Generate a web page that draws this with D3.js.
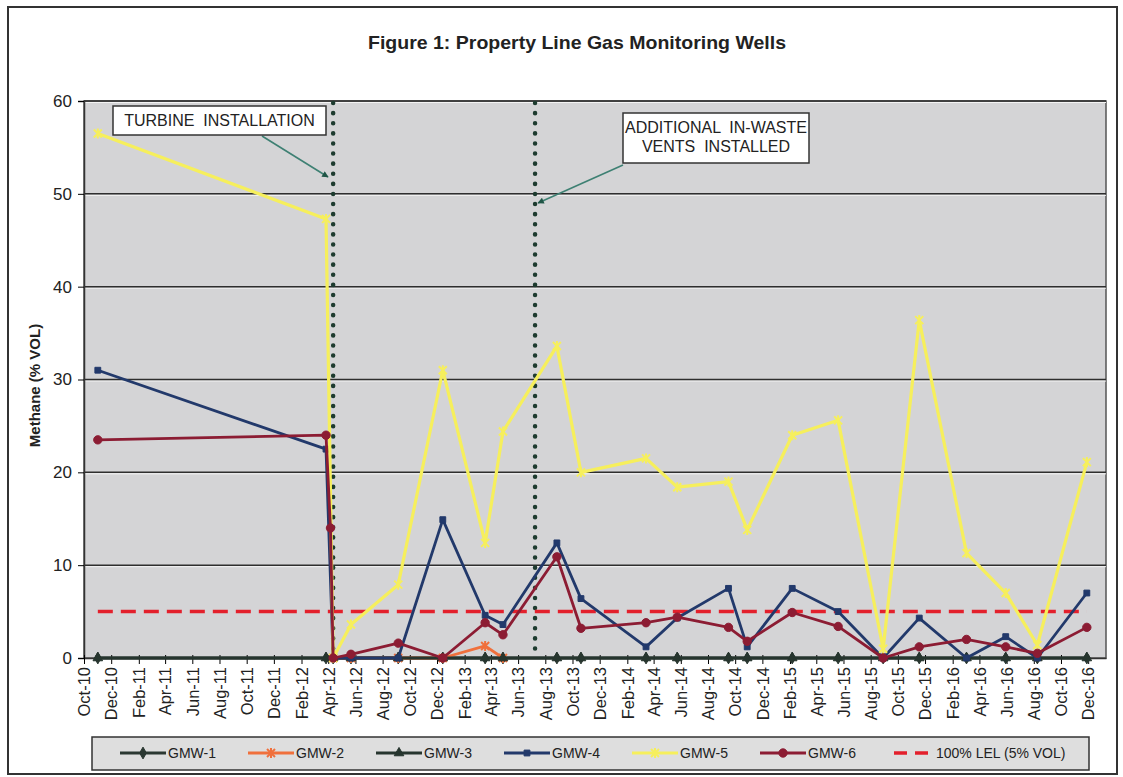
<!DOCTYPE html>
<html>
<head>
<meta charset="utf-8">
<script src="https://cdn.jsdelivr.net/npm/d3@7"></script>
<style>
  body { margin: 0; background: #fff; }
  svg { display: block; font-family: "Liberation Sans", Arial, sans-serif; }
</style>
</head>
<body>
<svg id="chart" width="1123" height="777"></svg>
<script>
// sample dates
const dates = ['2010-11-01', '2012-03-27', '2012-04-06', '2012-04-12', '2012-05-22',
  '2012-09-05', '2012-12-14', '2013-03-19', '2013-04-28', '2013-08-27', '2013-10-20',
  '2014-03-15', '2014-05-24', '2014-09-16', '2014-10-28', '2015-02-06', '2015-05-20',
  '2015-08-29', '2015-11-18', '2016-03-03', '2016-05-30', '2016-08-09', '2016-11-28'];

const gmw1 = [0, 0, null, 0, 0, 0, 0, 0, 0, 0, 0, 0, 0, 0, 0, 0, 0, 0, 0, 0, 0, 0, 0];
const gmw2 = [null, null, null, 0, 0, 0, 0, 1.3, 0, null, null, null, null, null, null, null, null, null, null, null, null, null, null];
const gmw3 = [0, 0, null, 0, 0, 0, 0, 0, 0, 0, 0, 0, 0, 0, 0, 0, 0, 0, 0, 0, 0, 0, 0];
const gmw4 = [31, 22.5, null, 0, 0, 0, 14.9, 4.6, 3.6, 12.4, 6.4, 1.2, 4.3, 7.5, 1.2, 7.5, 5.0, 0, 4.3, 0, 2.3, 0, 7.0];
const gmw5 = [56.5, 47.3, null, 0, 3.6, 7.9, 31.0, 12.4, 24.4, 33.6, 20.0, 21.5, 18.4, 19.0, 13.8, 24.0, 25.6, 1.0, 36.4, 11.3, 7.0, 1.4, 21.1];
const gmw6 = [23.5, 24.0, 14.0, 0, 0.4, 1.6, 0, 3.8, 2.5, 10.9, 3.2, 3.8, 4.4, 3.3, 1.8, 4.9, 3.4, 0, 1.2, 2.0, 1.2, 0.5, 3.3];
const lel = [5, 5, 5, 5, 5, 5, 5, 5, 5, 5, 5, 5, 5, 5, 5, 5, 5, 5, 5, 5, 5, 5, 5];

const yTicks = [0, 10, 20, 30, 40, 50, 60];
const events = [
  { date: '2012-04-12', lines: ['TURBINE  INSTALLATION'] },
  { date: '2013-07-09', lines: ['ADDITIONAL  IN-WASTE', 'VENTS  INSTALLED'] }
];

const series = [
  { name: 'GMW-1', values: gmw1, color: '#2b3832', marker: 'diamond' },
  { name: 'GMW-2', values: gmw2, color: '#f0703c', marker: 'star' },
  { name: 'GMW-3', values: gmw3, color: '#26352e', marker: 'triangle' },
  { name: 'GMW-4', values: gmw4, color: '#22396b', marker: 'square' },
  { name: 'GMW-5', values: gmw5, color: '#f6ef5c', marker: 'star' },
  { name: 'GMW-6', values: gmw6, color: '#8c1c33', marker: 'circle' }
];

const parse = d3.timeParse('%Y-%m-%d');
const svg = d3.select('#chart');

const plot = { left: 84, right: 1106, top: 101, bottom: 658 };

const x = d3.scaleTime()
  .domain([new Date(2010, 9, 1), new Date(2017, 0, 10)])
  .range([plot.left, plot.right]);
const y = d3.scaleLinear()
  .domain([0, 60])
  .range([plot.bottom, plot.top]);

// outer frame
svg.append('rect')
  .attr('x', 8).attr('y', 7).attr('width', 1109).attr('height', 767)
  .attr('fill', 'none').attr('stroke', '#333').attr('stroke-width', 2);

svg.append('text')
  .attr('x', 577).attr('y', 49)
  .attr('text-anchor', 'middle')
  .attr('font-size', 19).attr('font-weight', 'bold').attr('fill', '#222')
  .attr('textLength', 418).attr('lengthAdjust', 'spacingAndGlyphs')
  .text('Figure 1: Property Line Gas Monitoring Wells');

// plot background
svg.append('rect')
  .attr('x', plot.left).attr('y', plot.top)
  .attr('width', plot.right - plot.left).attr('height', plot.bottom - plot.top)
  .attr('fill', '#d4d4d6').attr('stroke', '#555').attr('stroke-width', 1.5);

// gridlines
const grid = svg.append('g');
yTicks.filter(t => t > 0).forEach(t => {
  grid.append('line')
    .attr('x1', plot.left).attr('x2', plot.right)
    .attr('y1', y(t) + 1.5).attr('y2', y(t) + 1.5)
    .attr('stroke', '#f4f4f4').attr('stroke-width', 1);
  grid.append('line')
    .attr('x1', plot.left).attr('x2', plot.right)
    .attr('y1', y(t)).attr('y2', y(t))
    .attr('stroke', '#2e2e2e').attr('stroke-width', 1.5);
});

// axes
const yAxis = svg.append('g')
  .attr('transform', 'translate(' + plot.left + ',0)')
  .call(d3.axisLeft(y).tickValues(yTicks).tickSize(6).tickPadding(6));
yAxis.select('.domain').attr('stroke', '#333').attr('stroke-width', 1.5);
yAxis.selectAll('text').attr('font-size', 17).attr('fill', '#222')
  .attr('font-family', '"Liberation Sans", Arial, sans-serif');

// one tick every two months, Oct-10 .. Dec-16
const xTicks = [];
for (let i = 0; i <= 37; i++) xTicks.push(d3.timeMonth.offset(new Date(2010, 9, 1), i * 2));
const xAxis = svg.append('g')
  .attr('transform', 'translate(0,' + plot.bottom + ')')
  .call(d3.axisBottom(x).tickValues(xTicks).tickFormat(d3.timeFormat('%b-%y'))
    .tickSizeInner(6).tickSizeOuter(0).tickPadding(4));
xAxis.select('.domain').attr('stroke', '#333').attr('stroke-width', 1.5);
xAxis.selectAll('.tick line').attr('y1', -3);
xAxis.selectAll('text')
  .attr('font-size', 16.5).attr('fill', '#222')
  .attr('font-family', '"Liberation Sans", Arial, sans-serif')
  .attr('text-anchor', 'end')
  .attr('transform', 'rotate(-90)')
  .attr('x', -9).attr('y', 0).attr('dy', '0.35em');

svg.append('text')
  .attr('transform', 'translate(40,' + ((plot.top + plot.bottom) / 2 + 6) + ') rotate(-90)')
  .attr('text-anchor', 'middle')
  .attr('font-size', 15).attr('font-weight', 'bold').attr('fill', '#222')
  .text('Methane (% VOL)');

// event lines (dotted)
events.forEach(e => {
  svg.append('line')
    .attr('x1', x(parse(e.date))).attr('x2', x(parse(e.date)))
    .attr('y1', plot.top + 2).attr('y2', plot.bottom)
    .attr('stroke', '#1d3b2f').attr('stroke-width', 4.5)
    .attr('stroke-linecap', 'round').attr('stroke-dasharray', '0.1 10');
});

function markerPath (type) {
  if (type === 'star') return 'M-4,-4L4,4M-4,4L4,-4M0,-5L0,5';
  const map = { diamond: d3.symbolDiamond, triangle: d3.symbolTriangle, square: d3.symbolSquare, circle: d3.symbolCircle };
  const size = { diamond: 40, triangle: 40, square: 34, circle: 55 };
  return d3.symbol().type(map[type]).size(size[type])();
}

const line = d3.line().x(d => x(d.date)).y(d => y(d.value));

// LEL dashed line
const lelData = dates.map((d, i) => ({ date: parse(d), value: lel[i] }));
svg.append('path')
  .datum(lelData)
  .attr('d', line)
  .attr('fill', 'none').attr('stroke', '#e3202c').attr('stroke-width', 3.5)
  .attr('stroke-dasharray', '15 8');

series.forEach(s => {
  const pts = dates.map((d, i) => ({ date: parse(d), value: s.values[i] }))
    .filter(p => p.value !== null);
  const g = svg.append('g');
  g.append('path')
    .datum(pts)
    .attr('d', line)
    .attr('fill', 'none').attr('stroke', s.color)
    .attr('stroke-width', s.name === 'GMW-5' ? 3.2 : 2.8)
    .attr('stroke-linejoin', 'round');
  g.selectAll('path.mk')
    .data(pts)
    .enter().append('path')
    .attr('class', 'mk')
    .attr('d', markerPath(s.marker))
    .attr('transform', p => 'translate(' + x(p.date) + ',' + y(p.value) + ')')
    .attr('fill', s.marker === 'star' ? 'none' : s.color)
    .attr('stroke', s.color).attr('stroke-width', s.marker === 'star' ? 2 : 1);
});

// annotation boxes and arrows
const arrowColor = '#3e8073';
svg.append('defs').append('marker')
  .attr('id', 'arrow').attr('viewBox', '0 0 10 10')
  .attr('refX', 9).attr('refY', 5)
  .attr('markerWidth', 5).attr('markerHeight', 4)
  .attr('orient', 'auto')
  .append('path').attr('d', 'M0,0L10,5L0,10Z').attr('fill', '#1f5546');

const boxes = [
  { x: 113, y: 106, w: 213, h: 29, from: [262, 136], to: [328, 177] },
  { x: 623, y: 113, w: 186, h: 50, from: [623, 165], to: [538, 203] }
];
boxes.forEach((b, i) => {
  svg.append('line')
    .attr('x1', b.from[0]).attr('y1', b.from[1])
    .attr('x2', b.to[0]).attr('y2', b.to[1])
    .attr('stroke', arrowColor).attr('stroke-width', 1.6)
    .attr('marker-end', 'url(#arrow)');
  svg.append('rect')
    .attr('x', b.x).attr('y', b.y).attr('width', b.w).attr('height', b.h)
    .attr('fill', '#fff').attr('stroke', '#333').attr('stroke-width', 1.5);
  const lines = events[i].lines;
  lines.forEach((t, j) => {
    svg.append('text')
      .attr('x', b.x + b.w / 2)
      .attr('y', b.y + (lines.length === 1 ? 20 : 20 + j * 19))
      .attr('text-anchor', 'middle')
      .attr('font-size', 16).attr('fill', '#222')
      .style('white-space', 'pre')
      .text(t);
  });
});

// legend
const legend = svg.append('g');
legend.append('rect')
  .attr('x', 92).attr('y', 737).attr('width', 997).attr('height', 33)
  .attr('fill', '#dedede').attr('stroke', '#333').attr('stroke-width', 1.5);
const legendItems = series.map(s => ({ name: s.name, color: s.color, marker: s.marker }))
  .concat([{ name: '100% LEL (5% VOL)', color: '#e3202c', marker: 'dash' }]);
legendItems.forEach((it, i) => {
  const lx = 120 + i * 128;
  const ly = 753;
  const item = legend.append('g').attr('transform', 'translate(' + lx + ',' + ly + ')');
  if (it.marker === 'dash') {
    item.append('line').attr('x1', 6).attr('x2', 44).attr('y1', 0).attr('y2', 0)
      .attr('stroke', it.color).attr('stroke-width', 3.5).attr('stroke-dasharray', '13 8');
  } else {
    item.append('line').attr('x1', 0).attr('x2', 46).attr('y1', 0).attr('y2', 0)
      .attr('stroke', it.color).attr('stroke-width', 2.8);
    item.append('path').attr('d', markerPath(it.marker))
      .attr('transform', 'translate(23,0)')
      .attr('fill', it.marker === 'star' ? 'none' : it.color)
      .attr('stroke', it.color).attr('stroke-width', it.marker === 'star' ? 2 : 1);
  }
  item.append('text')
    .attr('x', 48).attr('y', 5)
    .attr('font-size', 14).attr('fill', '#222')
    .text(it.name);
});
</script>
</body>
</html>
